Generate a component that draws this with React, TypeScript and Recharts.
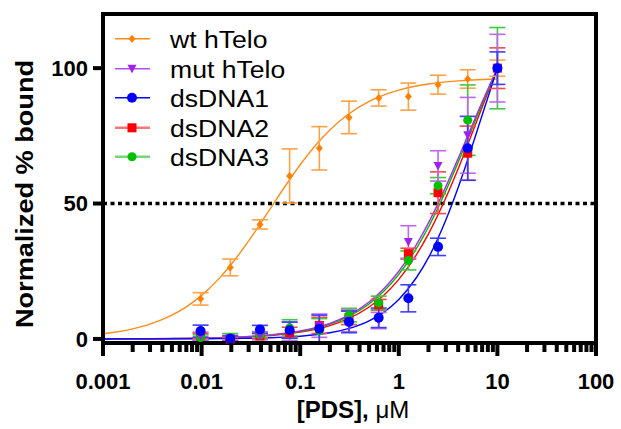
import React from 'react';
import { ComposedChart, Line, Scatter, XAxis, YAxis, ErrorBar, ReferenceLine, Legend } from 'recharts';

// ---------- data ----------
const concentrations = [0.009766, 0.01953, 0.03906, 0.07813, 0.1563, 0.3125, 0.625, 1.25, 2.5, 5, 10];

const wtY = [14.8, 26.4, 42.3, 60.2, 70.4, 81.8, 89.0, 89.5, 93.9, 96.0, 100];
const wtErr = [2.3, 3.1, 1.7, 10, 8, 6, 3, 5, 3.5, 3.4, 3];
const mutY = [1.0, 0.3, 1.2, 2.8, 4.9, 6.7, 6.8, 35.8, 63.9, 75.2, 100];
const mutErr = [1.5, 1, 1.5, 3.5, 4.3, 4, 3, 6, 5.6, 14, 12.5];
const ds1Y = [2.9, 0.1, 3.5, 3.2, 3.8, 6.3, 7.8, 15, 34, 70.4, 100];
const ds1Err = [2.2, 1, 1.5, 3, 5, 4, 3.6, 5, 3.2, 11.8, 6];
const ds2Y = [1.1, 0, 1.1, 2.3, 5, 7.8, 12.6, 31.5, 54, 68.6, 100];
const ds2Err = [1, 0.5, 1, 2, 3, 2.5, 2, 2, 7.7, 10, 7.5];
const ds3Y = [0.5, 0.5, 1.5, 4.1, 3, 8.8, 13.3, 29, 56.6, 80.8, 100];
const ds3Err = [1, 1.5, 1, 3, 4.5, 2.5, 2.5, 3.5, 3, 13, 15];

// fitted curves
const fitX = [0.001, 0.002, 0.003, 0.005, 0.007, 0.01, 0.015, 0.02, 0.03, 0.05, 0.07, 0.1, 0.15, 0.2, 0.3, 0.5, 0.7, 1, 1.5, 2, 3, 4, 5, 7, 10];
const wtFit = [1.89, 3.71, 5.46, 8.77, 11.85, 16.08, 22.27, 27.57, 36.19, 48.25, 56.29, 64.33, 72.38, 77.2, 82.71, 87.73, 90.07, 91.9, 93.39, 94.15, 94.92, 95.31, 95.54, 95.82, 96.02];
const mutFit = [0.03, 0.06, 0.09, 0.15, 0.21, 0.3, 0.45, 0.6, 0.89, 1.49, 2.09, 2.94, 4.37, 5.77, 8.49, 13.64, 18.42, 25, 34.62, 42.86, 56.25, 66.67, 75, 87.5, 100];
const ds1Fit = [0.004, 0.009, 0.015, 0.028, 0.041, 0.064, 0.1, 0.146, 0.238, 0.44, 0.66, 1.0, 1.62, 2.28, 3.69, 6.69, 9.82, 14.6, 22.5, 30.0, 43.9, 55.9, 66.2, 82.6, 100];
const ds2Fit = [0.03, 0.05, 0.08, 0.13, 0.18, 0.25, 0.38, 0.51, 0.76, 1.26, 1.76, 2.5, 3.72, 4.93, 7.28, 11.79, 16.04, 22, 30.94, 38.82, 52.11, 62.86, 71.74, 85.56, 100];
const ds3Fit = [0.03, 0.06, 0.08, 0.14, 0.2, 0.28, 0.42, 0.56, 0.84, 1.4, 1.96, 2.77, 4.12, 5.44, 8.02, 12.92, 17.5, 23.85, 33.21, 41.33, 54.71, 65.26, 73.81, 86.8, 100];

const seriesNames = ['wt hTelo', 'mut hTelo', 'dsDNA1', 'dsDNA2', 'dsDNA3'];

const majorTicks = [0.001, 0.01, 0.1, 1, 10, 100];
const majorTickLabels = ['0.001', '0.01', '0.1', '1', '10', '100'];
const minorTicks = [
  0.002, 0.003, 0.004, 0.005, 0.006, 0.007, 0.008, 0.009,
  0.02, 0.03, 0.04, 0.05, 0.06, 0.07, 0.08, 0.09,
  0.2, 0.3, 0.4, 0.5, 0.6, 0.7, 0.8, 0.9,
  2, 3, 4, 5, 6, 7, 8, 9,
  20, 30, 40, 50, 60, 70, 80, 90,
];
const yTicks = [0, 50, 100];
const xLabel = '[PDS], ';
const xLabelUnit = 'μM';
const yLabel = 'Normalized % bound';

// ---------- build tables ----------
const pts = (ys: number[], errs: number[]) => concentrations.map((x, i) => ({ x, y: ys[i], err: errs[i] }));
const fit = (ys: number[]) => fitX.map((x, i) => ({ x, y: ys[i] }));
const allXTicks = [...majorTicks, ...minorTicks].sort((a, b) => a - b);

const FONT = "'Liberation Sans', Arial, sans-serif";

const COLORS = {
  wt: { mark: '#FF8000', line: '#FF8C1A', err: '#FFA245', legend: '#FF8C1A', lw: 1.5 },
  mut: { mark: '#A020F0', line: '#A52EEA', err: '#C266F2', legend: '#B34CEC', lw: 1.5 },
  ds1: { mark: '#0000FF', line: '#0000FF', err: '#3D3DFF', legend: '#0000FF', lw: 1.5 },
  ds2: { mark: '#FF0000', line: '#FF0000', err: '#FF4545', legend: '#FF7575', lw: 2.5 },
  ds3: { mark: '#00C000', line: '#00B400', err: '#3DC83D', legend: '#74D874', lw: 2.5 },
};

// ---------- markers ----------
const Diamond = ({ cx, cy, fill }: any) => (
  <polygon points={`${cx},${cy - 4} ${cx + 3.5},${cy} ${cx},${cy + 4} ${cx - 3.5},${cy}`} fill={fill} />
);
const TriDown = ({ cx, cy, fill }: any) => (
  <polygon points={`${cx - 4.5},${cy - 4} ${cx + 4.5},${cy - 4} ${cx},${cy + 4.5}`} fill={fill} />
);
const Circle = ({ cx, cy, fill, r }: any) => <circle cx={cx} cy={cy} r={r} fill={fill} />;
const Square = ({ cx, cy, fill }: any) => <rect x={cx - 4.5} y={cy - 4.5} width={9} height={9} fill={fill} />;

const markerFor = (key: string, cx: number, cy: number) => {
  switch (key) {
    case 'wt': return <Diamond cx={cx} cy={cy} fill={COLORS.wt.mark} />;
    case 'mut': return <TriDown cx={cx} cy={cy} fill={COLORS.mut.mark} />;
    case 'ds1': return <Circle cx={cx} cy={cy} r={5} fill={COLORS.ds1.mark} />;
    case 'ds2': return <Square cx={cx} cy={cy} fill={COLORS.ds2.mark} />;
    default: return <Circle cx={cx} cy={cy} r={4.5} fill={COLORS.ds3.mark} />;
  }
};

// ---------- axis ticks ----------
const XTick = (props: any) => {
  const { x, y, payload } = props;
  const v = payload.value;
  const idx = majorTicks.indexOf(v);
  const major = idx >= 0;
  return (
    <g>
      <line x1={x} x2={x} y1={y} y2={y + (major ? 13 : 9)} stroke="#000" strokeWidth={4} />
      {major && (
        <text x={x} y={y + 46} textAnchor="middle" fontSize={22} fontWeight="bold" fontFamily={FONT} fill="#000">
          {majorTickLabels[idx]}
        </text>
      )}
    </g>
  );
};

const XLabel = () => (
  <text x={353} y={418} textAnchor="middle" fontSize={24} fontWeight="bold" fontFamily={FONT} fill="#000">
    {xLabel}
    <tspan fontWeight="normal">{xLabelUnit}</tspan>
  </text>
);

const YLabel = () => (
  <text
    transform="translate(33,194) rotate(-90) scale(1.13,1)"
    textAnchor="middle"
    fontSize={24}
    fontWeight="bold"
    fontFamily={FONT}
    fill="#000"
  >
    {yLabel}
  </text>
);

// ---------- legend ----------
const legendKeys = ['wt', 'mut', 'ds1', 'ds2', 'ds3'];
const LegendContent = () => (
  <div style={{ fontFamily: FONT }}>
    {legendKeys.map((k, i) => {
      const c = (COLORS as any)[k];
      return (
        <div key={k} style={{ height: 29.6, display: 'flex', alignItems: 'center' }}>
          <svg width={40} height={29.6} style={{ display: 'block' }}>
            <line x1={3} x2={38} y1={14.8} y2={14.8} stroke={c.legend} strokeWidth={c.lw} />
            {markerFor(k, 20, 14.8)}
          </svg>
          <span
            style={{
              marginLeft: 18,
              fontSize: 23,
              lineHeight: '29.6px',
              color: '#000',
              display: 'inline-block',
              whiteSpace: 'nowrap',
              transform: 'scaleX(1.155) translateY(2px)',
              transformOrigin: 'left center',
            }}
          >
            {seriesNames[i]}
          </span>
        </div>
      );
    })}
  </div>
);

const series = [
  { key: 'wt', data: pts(wtY, wtErr), curve: fit(wtFit) },
  { key: 'ds2', data: pts(ds2Y, ds2Err), curve: fit(ds2Fit) },
  { key: 'ds3', data: pts(ds3Y, ds3Err), curve: fit(ds3Fit) },
  { key: 'mut', data: pts(mutY, mutErr), curve: fit(mutFit) },
  { key: 'ds1', data: pts(ds1Y, ds1Err), curve: fit(ds1Fit) },
];

export default function App() {
  return (
    <div style={{ position: 'absolute', left: 0, top: 0, background: '#fff' }}>
      <ComposedChart width={621} height={429} margin={{ top: 14, right: 25, left: 0, bottom: 0 }}>
        <XAxis
          dataKey="x"
          type="number"
          scale="log"
          domain={[0.001, 100]}
          allowDataOverflow
          ticks={allXTicks}
          interval={0}
          tickSize={0}
          tickMargin={0}
          tickLine={false}
          tick={<XTick />}
          height={86}
          axisLine={{ stroke: '#000', strokeWidth: 4 }}
          label={<XLabel />}
        />
        <YAxis
          type="number"
          domain={[0, 120]}
          ticks={yTicks}
          interval={0}
          width={103}
          tickSize={10}
          tickMargin={5}
          tickLine={{ stroke: '#000', strokeWidth: 4 }}
          axisLine={{ stroke: '#000', strokeWidth: 4 }}
          tick={{ fontSize: 22, fontWeight: 'bold', fill: '#000', fontFamily: FONT }}
          label={<YLabel />}
        />
        <ReferenceLine y={50} stroke="#000" strokeWidth={3.5} strokeDasharray="4 3.5" />
        <ReferenceLine y={120} stroke="#000" strokeWidth={4} strokeLinecap="square" />
        <ReferenceLine x={100} stroke="#000" strokeWidth={4} strokeLinecap="square" />
        {series.map((s) => {
          const c = (COLORS as any)[s.key];
          return (
            <Line
              key={'fit-' + s.key}
              data={s.curve}
              dataKey="y"
              type="monotone"
              dot={false}
              activeDot={false}
              stroke={c.line}
              strokeWidth={1.4}
              isAnimationActive={false}
              legendType="none"
            />
          );
        })}
        {series.map((s) => {
          const c = (COLORS as any)[s.key];
          return (
            <Scatter
              key={'pts-' + s.key}
              data={s.data}
              dataKey="y"
              isAnimationActive={false}
              shape={(p: any) => markerFor(s.key, p.cx, p.cy)}
              legendType="none"
            >
              <ErrorBar dataKey="err" direction="y" width={8} stroke={c.err} strokeWidth={1.6} />
            </Scatter>
          );
        })}
        <Legend
          layout="vertical"
          align="center"
          verticalAlign="middle"
          content={<LegendContent />}
          wrapperStyle={{ position: 'absolute', left: 112, top: 24, width: 230 }}
        />
      </ComposedChart>
    </div>
  );
}
